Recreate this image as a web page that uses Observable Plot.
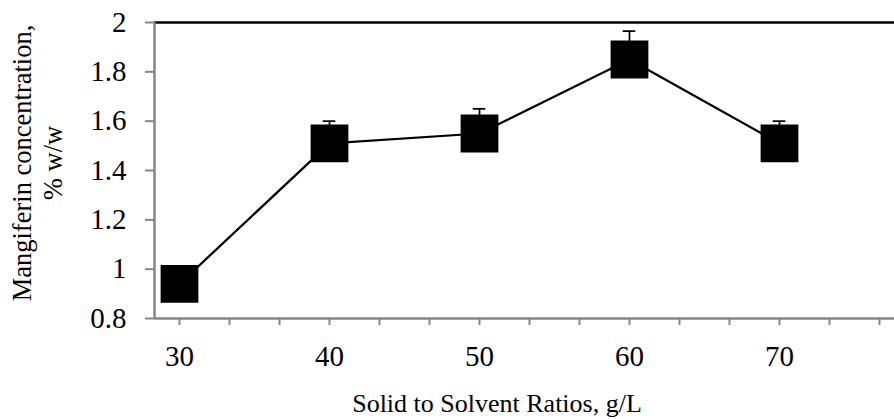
<!DOCTYPE html>
<html>
<head>
<meta charset="utf-8">
<script src="https://cdn.jsdelivr.net/npm/d3@7"></script>
<script src="https://cdn.jsdelivr.net/npm/@observablehq/plot@0.6"></script>
<style>
  html, body { margin: 0; padding: 0; background: #fff; }
  #chart { width: 894px; height: 419px; }
</style>
</head>
<body>
<div id="chart"></div>
<script>
// Data
const ratios = [30, 40, 50, 60, 70];               // Solid to Solvent Ratios, g/L
const concentrations = [0.94, 1.51, 1.55, 1.85, 1.51]; // Mangiferin concentration, % w/w
const errors = [0.05, 0.09, 0.10, 0.115, 0.09];     // positive error bars

const xTickLabels = [30, 40, 50, 60, 70];
const xMinorTicks = [30, 33.333, 36.667, 40, 43.333, 46.667, 50, 53.333, 56.667, 60, 63.333, 66.667, 70, 73.333, 76.667];
const yTicks = [0.8, 1, 1.2, 1.4, 1.6, 1.8, 2];
const xDomain = [28.333, 77.667];
const yDomain = [0.8, 2];

const xTitle = "Solid to Solvent Ratios, g/L";
const yTitleLines = ["Mangiferin concentration,", "% w/w"];

const data = ratios.map((x, i) => ({x, y: concentrations[i], top: concentrations[i] + errors[i]}));

const axisGray = "#868686";
const capHalf = 0.42;
const serif = "Liberation Serif";

const plot = Plot.plot({
  width: 894,
  height: 419,
  marginLeft: 154,
  marginRight: 0,
  marginTop: 22,
  marginBottom: 101,
  style: {fontFamily: serif, background: "white", color: "black", overflow: "visible"},
  x: {domain: xDomain},
  y: {domain: yDomain},
  marks: [
    Plot.axisY({ticks: yTicks, tickSize: 9, tickFormat: () => "", stroke: axisGray, strokeWidth: 2, label: null}),
    Plot.axisX({ticks: xMinorTicks, tickSize: 7, tickFormat: () => "", stroke: axisGray, strokeWidth: 2, label: null}),
    Plot.text(yTicks, {x: xDomain[0], y: d => d, text: d => String(d), textAnchor: "end", dx: -28, fontSize: 29, fontFamily: serif, fill: "black"}),
    Plot.text(xTickLabels, {x: d => d, y: yDomain[0], text: d => String(d), lineAnchor: "top", dy: 27, fontSize: 29, fontFamily: serif, fill: "black"}),
    Plot.ruleY([yDomain[1]], {stroke: "black", strokeWidth: 2.5}),
    Plot.ruleX([xDomain[0]], {stroke: axisGray, strokeWidth: 2.5}),
    Plot.ruleY([yDomain[0]], {stroke: axisGray, strokeWidth: 2.5}),
    Plot.ruleX(data, {x: "x", y1: "y", y2: "top", stroke: "black", strokeWidth: 1.75}),
    Plot.ruleY(data, {y: "top", x1: d => d.x - capHalf, x2: d => d.x + capHalf, stroke: "black", strokeWidth: 1.75}),
    Plot.line(data, {x: "x", y: "y", stroke: "black", strokeWidth: 2.25}),
    Plot.dot(data, {x: "x", y: "y", symbol: "square", r: 21.3, fill: "black", stroke: "none"})
  ]
});

document.getElementById("chart").appendChild(plot);

const svg = d3.select(plot);

svg.append("text")
  .attr("x", 497)
  .attr("y", 412)
  .attr("text-anchor", "middle")
  .style("font-family", serif)
  .style("font-size", "26px")
  .attr("fill", "black")
  .text(xTitle);

const yt = svg.append("text")
  .attr("transform", "translate(0,163) rotate(-90)")
  .attr("text-anchor", "middle")
  .style("font-family", serif)
  .style("font-size", "26.5px")
  .attr("fill", "black");
yt.append("tspan").attr("x", 0).attr("y", 31).text(yTitleLines[0]);
yt.append("tspan").attr("x", 0).attr("y", 62).text(yTitleLines[1]);
</script>
</body>
</html>
